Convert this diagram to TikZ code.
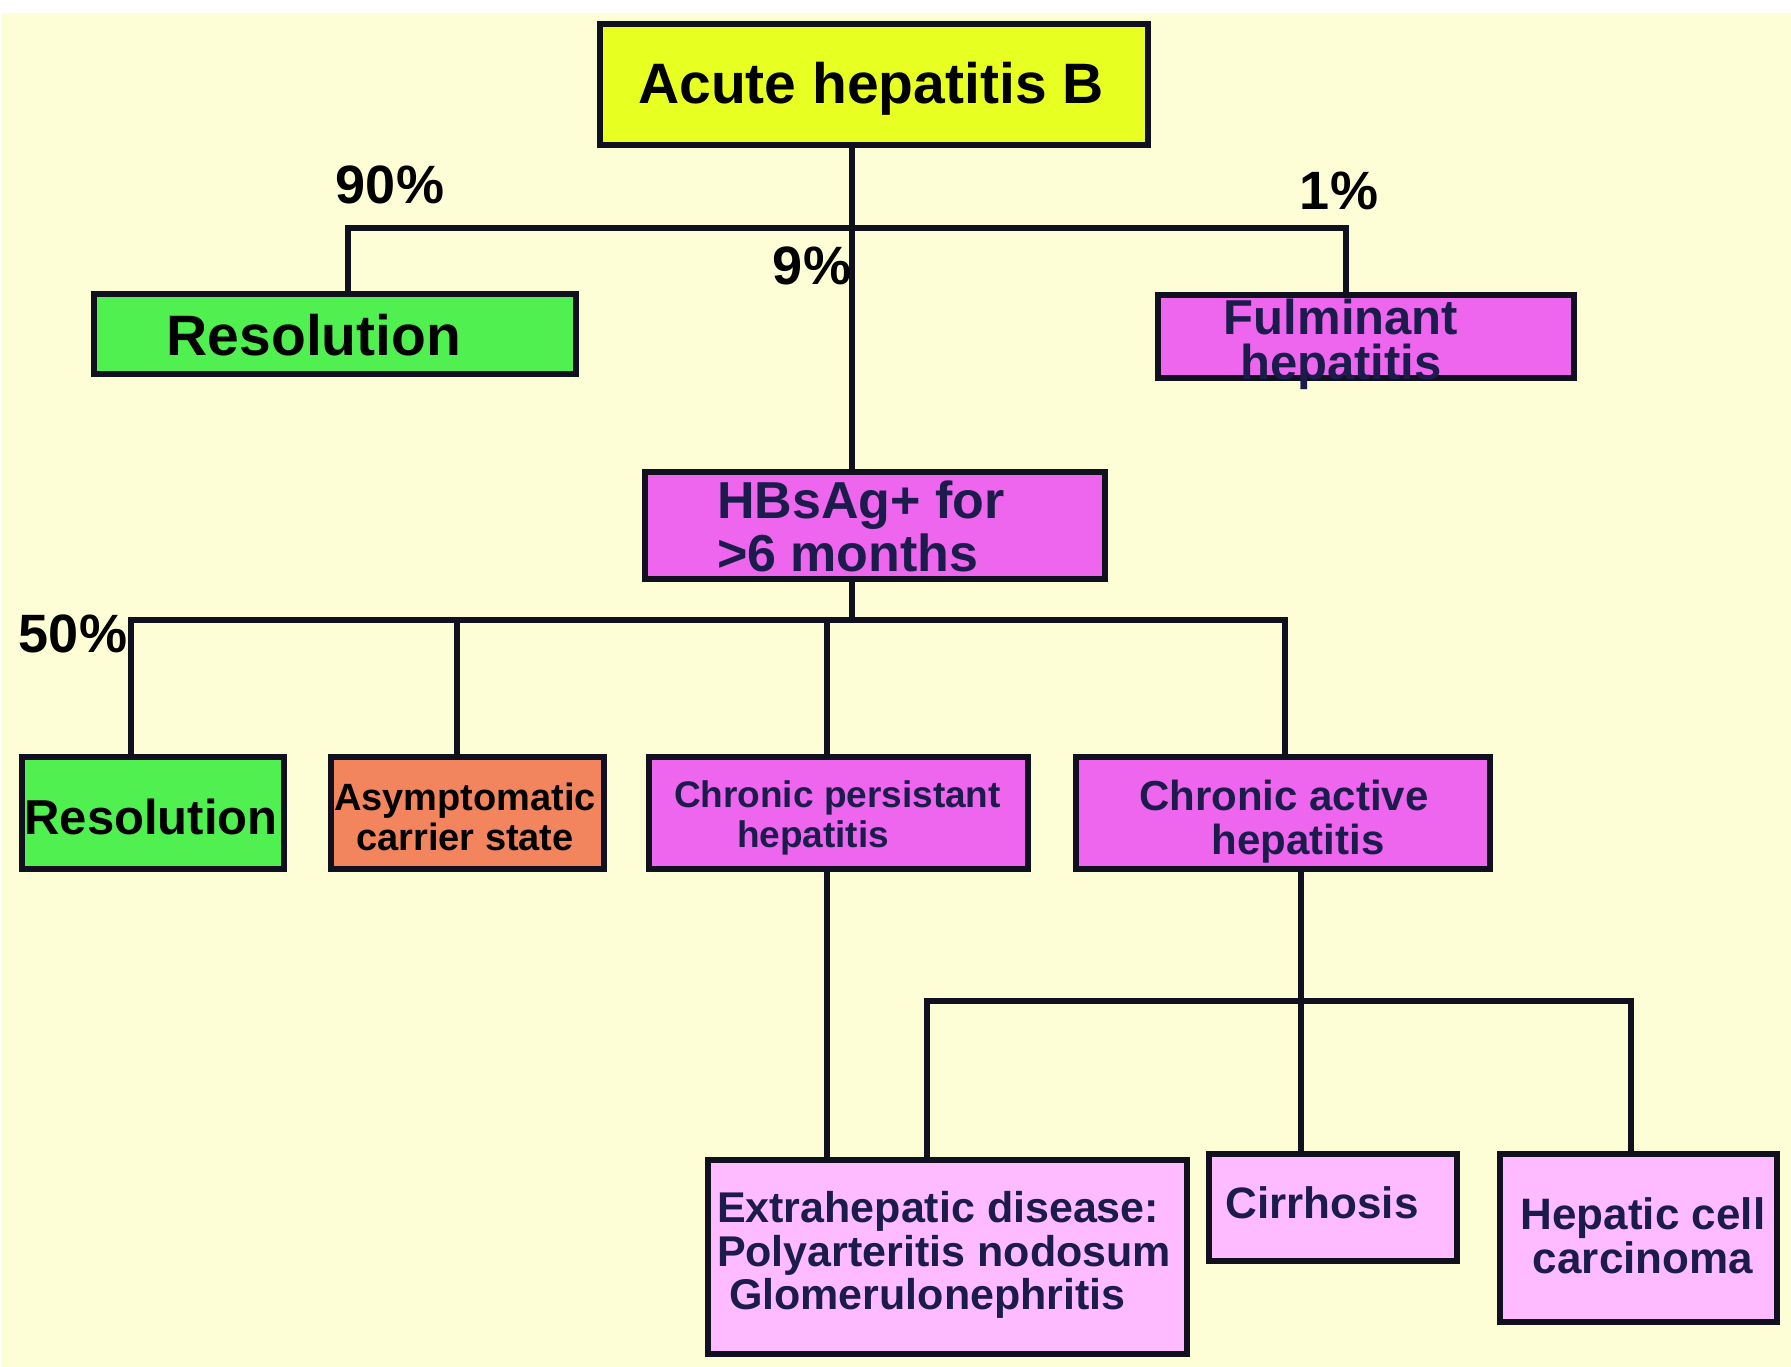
\documentclass[tikz,border=0pt]{standalone}
\usepackage{fontspec}
\setmainfont{Liberation Sans}
\definecolor{paper}{HTML}{FEFED6}
\definecolor{yellowbox}{HTML}{E8FF22}
\definecolor{greenbox}{HTML}{50F050}
\definecolor{magbox}{HTML}{EE66EE}
\definecolor{salmonbox}{HTML}{F2845E}
\definecolor{pinkbox}{HTML}{FFBBFF}
\definecolor{edge}{HTML}{10101E}
\definecolor{navy}{HTML}{1C1C4C}
\newcommand\hsz[2]{\fontsize{#1}{#2}\selectfont\bfseries}
\tikzset{
  box/.style={draw=edge, line width=6.5pt, inner sep=0pt, outer sep=0pt},
  lbl/.style={inner sep=0pt, outer sep=0pt, text=black},
  dark/.style={lbl, text=navy},
  wire/.style={draw=edge, line width=6pt, line cap=rect},
  pct/.style={lbl, font=\hsz{54}{54}},
}
\begin{document}
\begin{tikzpicture}[x=1pt, y=-1pt]
\useasboundingbox (0,0) rectangle (1791,1367);
\fill[white] (0,0) rectangle (1791,1367);
\fill[paper] (2,13) rectangle (1791,1367);

% boxes
\node[box, fill=yellowbox, minimum width=548, minimum height=121] (acute) at (874,84.5) {};
\node[box, fill=greenbox, minimum width=482, minimum height=80] (res1) at (335,334) {};
\node[box, fill=magbox, minimum width=416, minimum height=83] (fulm) at (1366,336.5) {};
\node[box, fill=magbox, minimum width=460, minimum height=107] (hbs) at (875,525.5) {};
\node[box, fill=greenbox, minimum width=262, minimum height=112] (res2) at (153,813) {};
\node[box, fill=salmonbox, minimum width=273, minimum height=112] (asym) at (467.5,813) {};
\node[box, fill=magbox, minimum width=379, minimum height=112] (cpers) at (838.5,813) {};
\node[box, fill=magbox, minimum width=414, minimum height=112] (cact) at (1283,813) {};
\node[box, fill=pinkbox, minimum width=479, minimum height=194] (extra) at (947.5,1257) {};
\node[box, fill=pinkbox, minimum width=248, minimum height=107] (cirr) at (1333,1207.5) {};
\node[box, fill=pinkbox, minimum width=277, minimum height=168] (hcc) at (1638.5,1238) {};

% branch points
\coordinate (j1) at (852,228);
\coordinate (b1l) at (348,228);
\coordinate (b1r) at (1346,228);
\coordinate (j2) at (852,620);
\coordinate (b2a) at (131,620);
\coordinate (b2b) at (457,620);
\coordinate (b2c) at (827,620);
\coordinate (b2d) at (1285,620);
\coordinate (j3) at (1301,1001);
\coordinate (b3l) at (927,1001);
\coordinate (b3r) at (1631,1001);

% connectors
\draw[wire] (j1 |- acute.south) -- (j1 |- hbs.north);
\draw[wire] (b1l |- res1.north) -- (b1l) -- (b1r) -- (b1r |- fulm.north);
\draw[wire] (j2 |- hbs.south) -- (j2);
\draw[wire] (b2a) -- (b2d);
\draw[wire] (b2a) -- (b2a |- res2.north);
\draw[wire] (b2b) -- (b2b |- asym.north);
\draw[wire] (b2c) -- (b2c |- cpers.north);
\draw[wire] (b2d) -- (b2d |- cact.north);
\draw[wire] (b2c |- cpers.south) -- (b2c |- extra.north);
\draw[wire] (j3 |- cact.south) -- (j3 |- cirr.north);
\draw[wire] (b3l |- extra.north) -- (b3l) -- (b3r) -- (b3r |- hcc.north);

% percentages
\node[pct] (p90) at (390,185) {90\%};
\node[pct] (p1) at (1339,191) {1\%};
\node[pct] (p9) at (812,266) {9\%};
\node[pct] (p50) at (73,634) {50\%};

% box texts
\node[lbl, font=\hsz{57}{57}] (t-acute) at (871,89) {Acute hepatitis B};
\node[lbl, font=\hsz{57}{57}] (t-res1) at (314,335) {Resolution};
\node[dark, font=\hsz{49}{45}, align=center] (t-fulm) at (1341,344) {Fulminant\\hepatitis};
\node[dark, font=\hsz{52}{53}, align=left, anchor=west] (t-hbs) at (717,526) {HBsAg+ for\\>6 months};
\node[lbl, font=\hsz{49}{49}] (t-res2) at (151,817) {Resolution};
\node[lbl, font=\hsz{38}{40}, align=center] (t-asym) at (465,817) {Asymptomatic\\carrier state};
\node[dark, font=\hsz{37}{40}, align=left, anchor=west] (t-cpers) at (674,818) {Chronic persistant\\\hspace*{63pt}hepatitis};
\node[dark, font=\hsz{42}{44}, align=center] (t-cact) at (1284,822) {Chronic active\\\hspace*{28pt}hepatitis};
\node[dark, font=\hsz{43}{43.5}, align=left, anchor=west] (t-extra) at (717,1255) {Extrahepatic disease:\\Polyarteritis nodosum\\\hspace*{12pt}Glomerulonephritis};
\node[dark, font=\hsz{44}{44}] (t-cirr) at (1322,1203) {Cirrhosis};
\node[dark, font=\hsz{44}{44}, align=center] (t-hcc) at (1643,1236) {Hepatic cell\\carcinoma};
\end{tikzpicture}
\end{document}
